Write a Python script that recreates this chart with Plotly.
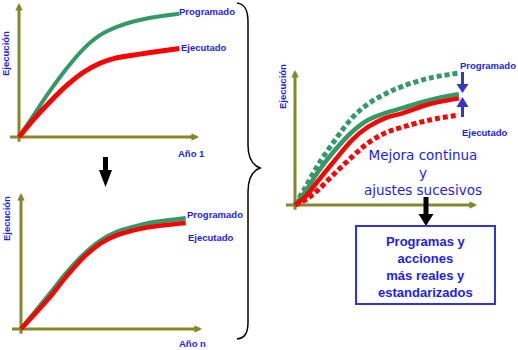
import plotly.graph_objects as go

W, H = 518, 350

# ---- data: time (x) vs. execution (y), 0-100 scale ----
# Año 1
t1 = [0, 8, 17, 27, 36, 45, 54, 63, 73, 89]
prog1 = [0, 16, 34, 52, 66, 76, 82, 86, 89, 92]
ejec1 = [0, 13, 26, 39, 48.5, 55, 59, 61, 63, 66]

# Año n
tn = [0, 16, 25, 34, 44, 53, 62, 71, 91]
progn = [0, 26, 41, 54, 65, 71.5, 75, 78, 81.5]
ejecn = [0, 23.5, 38.5, 52, 63, 69, 72.5, 75, 78]

# Mejora continua
tm = [0, 5.5, 12.6, 22, 31.3, 40.1, 49.5, 59.3, 74.2, 90]
prog_antes = [0, 12.6, 29.6, 48.1, 64.4, 74.8, 82.2, 88.1, 94.1, 97.8]
prog_ajust = [0, 9.6, 24.4, 40.7, 54.1, 63, 68.1, 71.9, 77.8, 82]
ejec_ajust = [0, 5.9, 17.8, 33.3, 48.1, 57.8, 64.4, 68.1, 74.8, 79]
ejec_antes = [0, 3.7, 11.1, 23.7, 35.6, 45.9, 53.3, 57.8, 63, 66.7]

GREEN = "#339966"
RED = "#ff0000"
BLUE = "#1e1ee6"
ARROW_BLUE = "#3535c8"
AXIS = "#86862a"
LBL_FONT = "Liberation Sans, Arial"
XR, YR = (-6, 103), (-5, 102)

# pixel geometry of each panel: origin and tips of the axes
panels = {
    "": dict(origin=(19, 137), tip=(199, 3)),
    "2": dict(origin=(21, 329), tip=(202, 193)),
    "3": dict(origin=(295, 205), tip=(477, 70)),
}


def px(x):
    return x / W


def py(y):
    return 1 - y / H


def path(points):
    pts = [f"{px(x):.5f},{py(y):.5f}" for x, y in points]
    return "M" + " L".join(pts) + " Z"


fig = go.Figure()
layout_axes = {}
shapes = []
annotations = []

for key, g in panels.items():
    (ox, oy), (tx, ty) = g["origin"], g["tip"]
    sx, sy = (tx - ox) / 100, (oy - ty) / 100
    xd = [px(ox + XR[0] * sx), px(ox + XR[1] * sx)]
    yd = [py(oy - YR[0] * sy), py(oy - YR[1] * sy)]
    ax_common = dict(visible=False, fixedrange=True)
    layout_axes["xaxis" + key] = dict(domain=xd, range=list(XR), anchor="y" + key, **ax_common)
    layout_axes["yaxis" + key] = dict(domain=yd, range=list(YR), anchor="x" + key, **ax_common)
    xref, yref = "x" + key, "y" + key
    # axis lines (drawn under the curves)
    shapes.append(dict(type="line", xref=xref, yref=yref, x0=-5, y0=0, x1=97, y1=0,
                       line=dict(color=AXIS, width=3), layer="below"))
    shapes.append(dict(type="line", xref=xref, yref=yref, x0=0, y0=-3.5, x1=0, y1=97,
                       line=dict(color=AXIS, width=3), layer="below"))
    # arrow heads at the axis tips
    annotations.append(dict(xref=xref, yref=yref, axref=xref, ayref=yref,
                            x=100, y=0, ax=94, ay=0, text="", showarrow=True,
                            arrowhead=2, arrowsize=0.6, arrowwidth=2.5, arrowcolor=AXIS))
    annotations.append(dict(xref=xref, yref=yref, axref=xref, ayref=yref,
                            x=0, y=100, ax=0, ay=94, text="", showarrow=True,
                            arrowhead=2, arrowsize=0.6, arrowwidth=2.5, arrowcolor=AXIS))

fig.update_layout(**layout_axes)


def curve(x, y, color, axes, dash="solid", width=4.5):
    fig.add_trace(go.Scatter(
        x=x, y=y, mode="lines", xaxis="x" + axes, yaxis="y" + axes,
        line=dict(color=color, width=width, shape="spline", smoothing=1, dash=dash),
        hoverinfo="skip", showlegend=False))


curve(t1, prog1, GREEN, "", width=4)
curve(t1, ejec1, RED, "", width=5)
curve(tn, progn, GREEN, "2", width=4.5)
curve(tn, ejecn, RED, "2", width=4.5)
curve(tm, prog_antes, GREEN, "3", dash="5px,3px", width=5)
curve(tm, ejec_antes, RED, "3", dash="5px,3px", width=5)
curve(tm, prog_ajust, GREEN, "3", width=4.5)
curve(tm, ejec_ajust, RED, "3", width=4.5)


def label(text, x, y, size=9.5, xanchor="left", angle=0, bold=True, family=LBL_FONT):
    annotations.append(dict(
        text=f"<b>{text}</b>" if bold else text, xref="paper", yref="paper",
        x=px(x), y=py(y), xanchor=xanchor, yanchor="middle", showarrow=False,
        textangle=angle, font=dict(family=family, size=size, color=BLUE)))


# Año 1
label("Programado", 177, 12)
label("Ejecutado", 179, 47)
label("Año 1", 176, 154)
label("Ejecución", 6, 54, xanchor="center", angle=-90)
# Año n
label("Programado", 185, 214)
label("Ejecutado", 186, 237)
label("Año n", 177, 343)
label("Ejecución", 7, 219, xanchor="center", angle=-90)
# Mejora continua
label("Programado", 458, 65)
label("Ejecutado", 460, 132)
label("Ejecución", 282, 87, xanchor="center", angle=-90)
label("Mejora continua<br>y<br>ajustes sucesivos", 422.5, 173, size=13.5,
      xanchor="center", bold=False, family="DejaVu Sans, Verdana")

# closing brace joining the two yearly panels
brace = (f"M{px(237)},{py(3)} C{px(245)},{py(4)} {px(248)},{py(10)} {px(248)},{py(22)} "
         f"L{px(248)},{py(145)} C{px(248)},{py(158)} {px(252)},{py(165)} {px(260)},{py(168)} "
         f"C{px(252)},{py(171)} {px(248)},{py(178)} {px(248)},{py(192)} "
         f"L{px(248)},{py(322)} C{px(248)},{py(333)} {px(245)},{py(338)} {px(237)},{py(339)}")
shapes.append(dict(type="path", xref="paper", yref="paper", path=brace,
                   line=dict(color="black", width=1.5)))

# black block arrows
shapes.append(dict(type="path", xref="paper", yref="paper", fillcolor="black",
                   line=dict(width=0),
                   path=path([(103, 157), (108, 157), (108, 170), (112, 170),
                              (105.5, 187), (99, 170), (103, 170)])))
shapes.append(dict(type="path", xref="paper", yref="paper", fillcolor="black",
                   line=dict(width=0),
                   path=path([(423.5, 197), (428.5, 197), (428.5, 214), (433.5, 214),
                              (426, 226), (418.5, 214), (423.5, 214)])))

# blue arrows closing the gap between programmed and executed
shapes.append(dict(type="path", xref="paper", yref="paper", fillcolor=ARROW_BLUE,
                   line=dict(width=0),
                   path=path([(461, 72), (464, 72), (464, 84), (468.5, 84),
                              (462.5, 93), (456.5, 84), (461, 84)])))
shapes.append(dict(type="path", xref="paper", yref="paper", fillcolor=ARROW_BLUE,
                   line=dict(width=0),
                   path=path([(462.5, 97), (468.5, 107), (464, 107), (464, 117),
                              (461, 117), (461, 107), (456.5, 107)])))

# result box
shapes.append(dict(type="rect", xref="paper", yref="paper",
                   x0=px(356), y0=py(226), x1=px(495), y1=py(304),
                   line=dict(color="#3333dd", width=2), fillcolor="white"))
label("Programas y<br>acciones<br>más reales y<br>estandarizados", 425.5, 267, size=13,
      xanchor="center", family="Liberation Sans, Arial")

fig.update_layout(
    width=W, height=H, margin=dict(l=0, r=0, t=0, b=0),
    paper_bgcolor="white", plot_bgcolor="rgba(0,0,0,0)",
    shapes=shapes, annotations=annotations, showlegend=False,
)

fig.write_html("out.html")
